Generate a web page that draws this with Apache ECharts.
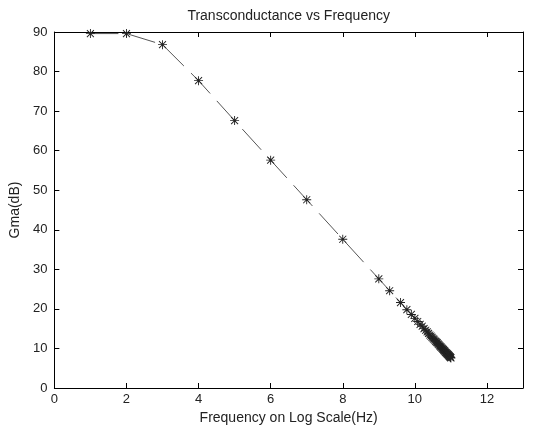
<!DOCTYPE html>
<html>
<head>
<meta charset="utf-8">
<script src="https://cdn.jsdelivr.net/npm/echarts@6/dist/echarts.min.js"></script>
<style>html,body{margin:0;padding:0;background:#fff}#c{width:540px;height:430px}</style>
</head>
<body>
<div id="c"></div>
<script>
// log10 of frequency (Hz)
var freqLog = [1, 2, 3, 4, 5, 6, 7, 8, 9,
  9.301, 9.602, 9.778, 9.903, 10.000, 10.079, 10.146, 10.204, 10.255, 10.301,
  10.342, 10.380, 10.415, 10.447, 10.477, 10.505, 10.531, 10.556, 10.580, 10.602,
  10.623, 10.643, 10.663, 10.681, 10.699, 10.716, 10.732, 10.748, 10.763, 10.778,
  10.792, 10.806, 10.820, 10.833, 10.845, 10.857, 10.869, 10.881, 10.892, 10.903,
  10.914, 10.924, 10.934, 10.944, 10.954, 10.964, 10.973, 10.982, 10.991, 11.000];
// Gma in dB
var gmaDb = [89.6, 89.6, 86.8, 77.7, 67.6, 57.6, 47.6, 37.6, 27.6,
  24.6, 21.6, 19.8, 18.6, 17.6, 16.8, 16.1, 15.6, 15.0, 14.6,
  14.2, 13.8, 13.4, 13.1, 12.8, 12.5, 12.3, 12.0, 11.8, 11.6,
  11.4, 11.2, 11.0, 10.8, 10.6, 10.4, 10.3, 10.1, 10.0, 9.8,
  9.7, 9.5, 9.4, 9.3, 9.1, 9.0, 8.9, 8.8, 8.7, 8.6,
  8.5, 8.4, 8.3, 8.2, 8.1, 8.0, 7.9, 7.8, 7.7, 7.6];
var titleText = 'Transconductance vs Frequency';
var xName = 'Frequency on Log Scale(Hz)';
var yName = 'Gma(dB)';

var pts = freqLog.map(function (x, i) { return [x, gmaDb[i]]; });
var FONT = '"Liberation Sans", Arial, sans-serif';
var star = 'path://M9 0h2v20h-2zM0 9h20v2h-20zM2.93 1.52L18.48 17.07L17.07 18.48L1.52 2.93zM17.07 1.52L18.48 2.93L2.93 18.48L1.52 17.07z';

var chart = echarts.init(document.getElementById('c'), null, {renderer: 'canvas'});
var axLine = {show: true, onZero: false, lineStyle: {color: '#000', width: 1}};
var ticksIn = {show: true, inside: true, length: 5, lineStyle: {color: '#000', width: 1}};
chart.setOption({
  animation: false,
  backgroundColor: '#fff',
  grid: {left: 54, right: 17, top: 32, bottom: 39, containLabel: false},
  xAxis: [{
    type: 'value', min: 0, max: 13, interval: 2, position: 'bottom',
    axisLine: axLine, axisTick: ticksIn, splitLine: {show: false},
    axisLabel: {color: '#222', fontFamily: FONT, fontSize: 13, margin: 5, showMaxLabel: false,
      formatter: function (v) { return v === 13 ? '' : String(v); }},
    name: xName, nameLocation: 'middle', nameGap: 23,
    nameTextStyle: {color: '#222', fontFamily: FONT, fontSize: 14}
  }, {
    type: 'value', min: 0, max: 13, interval: 2, position: 'top',
    axisLine: axLine, axisTick: ticksIn, splitLine: {show: false},
    axisLabel: {show: false},
    name: titleText, nameLocation: 'middle', nameGap: 9,
    nameTextStyle: {color: '#222', fontFamily: FONT, fontSize: 14}
  }],
  yAxis: [{
    type: 'value', min: 0, max: 90, interval: 10, position: 'left',
    axisLine: axLine, axisTick: ticksIn, splitLine: {show: false},
    axisLabel: {color: '#222', fontFamily: FONT, fontSize: 13, margin: 7},
    name: yName, nameLocation: 'middle', nameGap: 27,
    nameTextStyle: {color: '#222', fontFamily: FONT, fontSize: 14}
  }, {
    type: 'value', min: 0, max: 90, interval: 10, position: 'right',
    axisLine: axLine, axisTick: ticksIn, splitLine: {show: false},
    axisLabel: {show: false}
  }],
  series: [{
    type: 'line', data: pts, xAxisIndex: 0, yAxisIndex: 0,
    symbol: star, symbolSize: 9, showAllSymbol: true,
    lineStyle: {color: '#555', width: 1, type: [28, 10]},
    itemStyle: {color: '#222', borderWidth: 0},
    emphasis: {disabled: true}
  }]
});
</script>
</body>
</html>
